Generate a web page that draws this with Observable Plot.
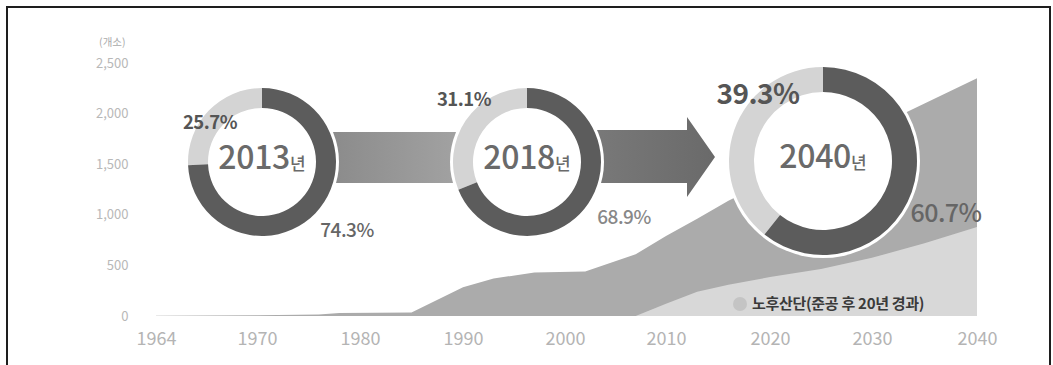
<!DOCTYPE html>
<html>
<head>
<meta charset="utf-8">
<script src="https://cdn.jsdelivr.net/npm/d3@7"></script>
<script src="https://cdn.jsdelivr.net/npm/@observablehq/plot@0.6"></script>
<style>
  html, body { margin: 0; padding: 0; background: #fff; }
  #wrap { position: relative; width: 1053px; height: 365px; overflow: hidden; }
  #frame { position: absolute; left: 6px; top: 6px; width: 1045px; height: 380px;
           border: 2px solid #1e1e1e; box-sizing: border-box; pointer-events: none; }
</style>
</head>
<body>
<div id="wrap"><div id="chart"></div><div id="frame"></div></div>
<script>
// ---- data ----
const totalYears  = [1964, 1970, 1976, 1978, 1985, 1990, 1993, 1997, 2002, 2007, 2010, 2013, 2016, 2020, 2025, 2030, 2035, 2040];
const totalValues = [2, 8, 15, 30, 35, 285, 370, 430, 440, 610, 790, 960, 1140, 1340, 1590, 1850, 2100, 2350];
const oldYears    = [2007, 2010, 2013, 2016, 2020, 2025, 2030, 2035, 2040];
const oldValues   = [0, 120, 240, 310, 385, 465, 575, 720, 880];
const donutLabels = ["2013", "2018", "2040"];
const oldShare    = [25.7, 31.1, 39.3];
const restShare   = [74.3, 68.9, 60.7];
const xTicks      = [1964, 1970, 1980, 1990, 2000, 2010, 2020, 2030, 2040];
const yTicks      = [0, 500, 1000, 1500, 2000, 2500];
const yUnit       = "(개소)";
const legendLabel = "노후산단(준공 후 20년 경과)";
const yearSuffix  = "년";

// ---- layout ----
const xPos = [156, 257, 360, 463, 565, 666, 770, 872, 977];
const FONT = "'Noto Sans CJK KR', 'Noto Sans', sans-serif";
const donutLayout = [
  {cx: 262, cy: 162, ro: 74, ri: 54, yearSize: 32, oldLbl: {x: 210, y: 123, size: 18.5, weight: 700, fill: "#555"}, restLbl: {x: 347, y: 230, size: 19, weight: 500, fill: "#666"}},
  {cx: 527, cy: 162, ro: 74, ri: 54, yearSize: 32, oldLbl: {x: 464, y: 100, size: 18.5, weight: 700, fill: "#555"}, restLbl: {x: 624, y: 217, size: 19, weight: 500, fill: "#888"}},
  {cx: 823, cy: 161, ro: 94, ri: 69, yearSize: 32, oldLbl: {x: 758, y: 94, size: 28, weight: 700, fill: "#555"}, restLbl: {x: 946, y: 213, size: 25, weight: 500, fill: "#666"}}
];

const totalData = totalYears.map((y, i) => ({year: y, value: totalValues[i]}));
const oldData = oldYears.map((y, i) => ({year: y, value: oldValues[i]}));

function overlay(index, scales, values, dimensions) {
  const g = d3.create("svg:g");
  const defs = g.append("defs");
  const g1 = defs.append("linearGradient").attr("id", "arr1").attr("x1", "0").attr("x2", "1").attr("y1", "0").attr("y2", "0");
  g1.append("stop").attr("offset", "0").attr("stop-color", "#898989");
  g1.append("stop").attr("offset", "1").attr("stop-color", "#a4a4a4");
  const g2 = defs.append("linearGradient").attr("id", "arr2").attr("x1", "0").attr("x2", "1").attr("y1", "0").attr("y2", "0");
  g2.append("stop").attr("offset", "0").attr("stop-color", "#7a7a7a");
  g2.append("stop").attr("offset", "1").attr("stop-color", "#6a6a6a");

  // legend
  g.append("circle").attr("cx", 740).attr("cy", 304).attr("r", 7).attr("fill", "#c4c4c4");
  g.append("text").attr("x", 752).attr("y", 304).attr("dy", "0.35em").attr("text-anchor", "start")
    .attr("font-size", 15).attr("font-weight", 700).attr("fill", "#3a3a3a")
    .attr("font-family", FONT).attr("letter-spacing", "-0.3").text(legendLabel);

  // arrows
  g.append("rect").attr("x", 320).attr("y", 132).attr("width", 150).attr("height", 51).attr("fill", "url(#arr1)");
  g.append("path").attr("d", "M585,130 L687,130 L687,117 L715,157 L687,197 L687,183 L585,183 Z").attr("fill", "url(#arr2)");

  // donuts
  donutLayout.forEach((L, i) => {
    const s = oldShare[i] / 100;
    const dg = g.append("g").attr("transform", `translate(${L.cx},${L.cy})`);
    dg.append("circle").attr("r", L.ro + 3).attr("fill", "#fff");
    const arc = d3.arc().innerRadius(L.ri).outerRadius(L.ro);
    dg.append("path").attr("d", arc({startAngle: -s * 2 * Math.PI, endAngle: 0})).attr("fill", "#d4d4d4");
    dg.append("path").attr("d", arc({startAngle: 0, endAngle: (restShare[i] / 100) * 2 * Math.PI})).attr("fill", "#5c5c5c");
    const t = dg.append("text").attr("text-anchor", "middle").attr("y", 3).attr("dy", "0.35em")
      .attr("font-family", FONT).attr("font-weight", 500).attr("fill", "#6a6a6a");
    t.append("tspan").attr("font-size", L.yearSize).attr("letter-spacing", "-0.3").text(donutLabels[i]);
    t.append("tspan").attr("font-size", 17).attr("dy", "0.1em").text(yearSuffix);
    // percent labels
    [[L.oldLbl, oldShare[i]], [L.restLbl, restShare[i]]].forEach(([p, v]) => {
      g.append("text").attr("x", p.x).attr("y", p.y).attr("dy", "0.35em").attr("text-anchor", "middle")
        .attr("font-family", FONT).attr("font-size", p.size).attr("font-weight", p.weight)
        .attr("fill", p.fill).attr("letter-spacing", "-0.5").text(v.toFixed(1) + "%");
    });
  });
  return g.node();
}

const chart = Plot.plot({
  width: 1053,
  height: 365,
  marginLeft: 128,
  marginRight: 40,
  marginTop: 38,
  marginBottom: 21,
  style: {fontFamily: FONT, background: "transparent"},
  x: {type: "linear", domain: xTicks, range: xPos, axis: null},
  y: {domain: [0, 2500], range: [316, 63], axis: null},
  marks: [
    Plot.areaY(totalData, {x: "year", y: "value", fill: "#ababab"}),
    Plot.areaY(oldData, {x: "year", y: "value", fill: "#d8d8d8"}),
    Plot.text(yTicks, {y: d => d, frameAnchor: "left", textAnchor: "end", text: d => d3.format(",")(d), fontSize: 13, fill: "#b8b8b8"}),
    Plot.text([yUnit], {frameAnchor: "top-left", textAnchor: "end", dx: -3, text: d => d, fontSize: 10.5, fill: "#aaaaaa"}),
    Plot.text(xTicks, {x: d => d, frameAnchor: "bottom", text: d => String(d), fontSize: 18, fill: "#b4b4b4"}),
    overlay
  ]
});
document.getElementById("chart").appendChild(chart);
</script>
</body>
</html>
